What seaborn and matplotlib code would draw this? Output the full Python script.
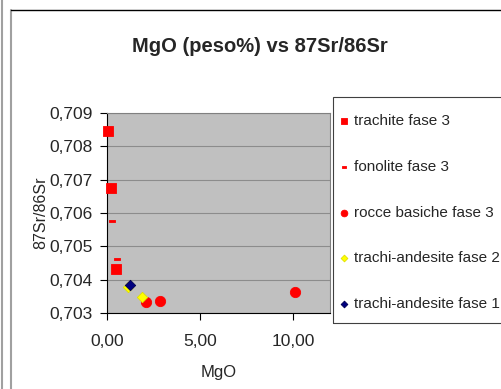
import matplotlib
matplotlib.use("Agg")
import matplotlib.pyplot as plt
from matplotlib.lines import Line2D
from matplotlib.patches import Rectangle
from matplotlib.path import Path
from matplotlib.ticker import FuncFormatter, MultipleLocator
import seaborn as sns
import pandas as pd

# ---- data ----
trachite_x = [0.07, 0.2, 0.5]
trachite_y = [0.70845, 0.70674, 0.70432]
fonolite_x = [0.25, 0.55]
fonolite_y = [0.70576, 0.70462]
basiche_x = [2.1, 2.85, 10.1]
basiche_y = [0.70333, 0.70336, 0.70362]
ta2_x = [1.15, 1.9]
ta2_y = [0.70378, 0.70349]
ta1_x = [1.25]
ta1_y = [0.70384]

series_names = ["trachite fase 3", "fonolite fase 3", "rocce basiche fase 3",
                "trachi-andesite fase 2", "trachi-andesite fase 1"]

sns.set_theme(style="white")
plt.rcParams['font.family'] = ['Liberation Sans', 'DejaVu Sans']

W, H = 502, 389
fig = plt.figure(figsize=(W / 100, H / 100), dpi=100)
fig.patch.set_facecolor("white")

left, right, top, bottom = 107, 330, 113, 313
ax = fig.add_axes([left / W, 1 - bottom / H, (right - left) / W, (bottom - top) / H])
ax.set_facecolor("#C0C0C0")

dash = Path([(-1, -0.45), (1, -0.45), (1, 0.45), (-1, 0.45), (-1, -0.45)],
            [Path.MOVETO, Path.LINETO, Path.LINETO, Path.LINETO, Path.CLOSEPOLY])

specs = [
    (trachite_x, trachite_y, "s", "#FF0000", "#FF0000", 60),
    (fonolite_x, fonolite_y, dash, "#FF0000", "#FF0000", 16),
    (basiche_x, basiche_y, "o", "#FF0000", "#FF0000", 55),
    (ta2_x, ta2_y, "D", "#FFFF00", "#E0E000", 28),
    (ta1_x, ta1_y, "D", "#000080", "#000050", 28),
]
for name, (xs, ys, mk, fc, ec, s) in zip(series_names, specs):
    df = pd.DataFrame({"MgO": xs, "Sr": ys})
    sns.scatterplot(data=df, x="MgO", y="Sr", ax=ax, marker=mk, color=fc,
                    edgecolor=ec, linewidth=0.6, s=s, label=name, zorder=3,
                    clip_on=False)

ax.set_xlim(0, 12)
ax.set_ylim(0.703, 0.709)
ax.xaxis.set_major_locator(MultipleLocator(5))
ax.yaxis.set_major_locator(MultipleLocator(0.001))
ax.xaxis.set_major_formatter(FuncFormatter(lambda v, p: f"{v:.2f}".replace(".", ",")))
ax.yaxis.set_major_formatter(FuncFormatter(lambda v, p: f"{v:.3f}".replace(".", ",")))
ax.grid(axis="y", color="#8C8C8C", linewidth=0.8)
ax.set_axisbelow(True)
for sp in ["top", "right"]:
    ax.spines[sp].set_color("#808080")
    ax.spines[sp].set_linewidth(0.8)
for sp in ["left", "bottom"]:
    ax.spines[sp].set_color("#000000")
    ax.spines[sp].set_linewidth(0.8)
ax.tick_params(axis="y", direction="out", length=5, width=0.8, color="black",
               labelsize=12.5, pad=5, left=True)
ax.tick_params(axis="x", direction="out", length=5, width=0.8, color="black",
               labelsize=12.5, pad=10, bottom=True)
ax.set_xlabel("MgO", fontsize=12, labelpad=12)
ax.set_ylabel("87Sr/86Sr", fontsize=11.5, labelpad=1)

fig.text(260 / W, 1 - 47 / H, "MgO (peso%) vs 87Sr/86Sr", ha="center", va="center",
         fontsize=14.5, fontweight="bold")

handles, labels = ax.get_legend_handles_labels()
ax.legend_.remove()
leg = fig.legend(handles, labels, loc="upper left",
                 bbox_to_anchor=(338 / W, 1 - 114 / H), fontsize=11,
                 frameon=False, labelspacing=2.08, handletextpad=0.25,
                 handlelength=0.8, borderpad=0, borderaxespad=0, markerscale=0.65)

# legend frame
fig.add_artist(Rectangle((333 / W, 1 - 323 / H), (505 - 333) / W, (323 - 97) / H,
                         transform=fig.transFigure, fill=False,
                         edgecolor="#404040", linewidth=0.8))

# outer frame lines
fig.add_artist(Line2D([2.5 / W, 2.5 / W], [0, 1], color="#A0A0A0", linewidth=1.5))
fig.add_artist(Line2D([11 / W, 11 / W], [0, 1 - 10 / H], color="#A0A0A0", linewidth=1.5))
fig.add_artist(Line2D([11 / W, 1], [1 - 10 / H, 1 - 10 / H], color="#000000", linewidth=1.0))

fig.savefig("out.png", dpi=100)
